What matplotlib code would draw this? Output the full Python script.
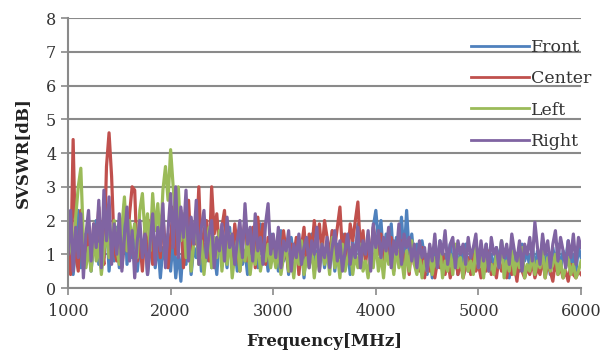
import numpy as np
import matplotlib.pyplot as plt

# frequency axis: 1000..6000 MHz, 25 MHz step (201 points)
freq = np.arange(1000, 6001, 25)

front = [
    0.8, 1.5, 0.4, 1.2, 2.3, 0.6, 1.6, 0.9, 1.9, 0.5, 1.3, 2.0, 0.7, 1.5, 0.9, 2.2, 0.5, 1.4, 0.8, 1.8, 0.6,
    1.2, 2.5, 0.7, 1.6, 0.9, 1.9, 0.5, 1.3, 0.8, 1.7, 0.4, 1.1, 1.8, 0.6, 1.4, 0.3, 1.2, 0.8, 1.6, 0.5,
    1.5, 0.3, 1.1, 0.2, 1.4, 0.7, 1.8, 0.4, 1.2, 0.9, 1.6, 0.5, 1.3, 0.8, 1.7, 0.6, 1.1, 0.4, 1.5, 0.9,
    1.3, 0.6, 1.8, 0.8, 1.2, 0.5, 1.6, 0.7, 1.1, 0.4, 1.5, 0.9, 1.3, 0.6, 1.9, 0.8, 1.2, 0.5, 1.6, 0.9,
    1.3, 0.5, 1.7, 0.8, 1.2, 0.4, 1.5, 0.9, 1.1, 0.6, 1.4, 0.3, 1.2, 0.7, 1.6, 0.5, 1.1, 0.8, 1.4, 0.6,
    1.2, 0.7, 1.7, 0.5, 1.3, 0.9, 1.6, 0.6, 1.2, 0.4, 1.4, 0.8, 1.9, 0.6, 1.3, 0.9, 1.5, 0.7, 1.8, 2.3,
    1.4, 2.0, 0.8, 1.6, 1.1, 1.9, 0.7, 1.5, 1.2, 2.1, 0.9, 2.3, 1.0, 1.6, 0.8, 1.3, 0.6, 1.4, 0.9, 0.4,
    1.1, 0.3, 1.2, 0.7, 1.4, 0.5, 1.0, 0.8, 1.3, 0.6, 1.1, 0.4, 1.2, 0.7, 1.3, 0.5, 1.0, 0.8, 1.4, 0.6,
    1.1, 0.4, 1.3, 0.7, 1.0, 0.5, 1.2, 0.8, 1.4, 0.6, 1.1, 0.3, 1.2, 0.7, 1.0, 0.5, 1.3, 0.8, 1.1, 0.6,
    1.3, 0.5, 1.1, 0.8, 1.4, 0.6, 1.0, 0.4, 1.2, 0.7, 1.3, 0.5, 1.1, 0.8, 1.4, 0.6, 1.0, 0.5, 1.2, 0.9,
]

center = [
    1.9, 0.4, 4.4, 1.0, 0.5, 2.3, 1.2, 0.8, 1.6, 0.6, 1.9, 1.1, 2.4, 1.3, 0.7, 3.6, 4.6, 3.3, 1.2, 0.8, 1.4,
    0.6, 1.5, 1.1, 2.2, 3.0, 2.9, 0.8, 1.4, 0.5, 1.7, 1.0, 2.0, 0.7, 1.3, 1.6, 0.9, 2.1, 1.2, 0.6, 1.5,
    2.4, 1.0, 1.8, 2.3, 0.6, 1.5, 2.6, 1.1, 1.9, 1.3, 3.0, 0.9, 1.7, 2.0, 0.8, 3.0, 1.6, 2.2, 1.2, 1.8,
    2.3, 1.0, 1.6, 0.7, 1.9, 1.2, 0.5, 1.4, 2.0, 0.8, 1.3, 1.8, 0.6, 2.1, 1.1, 1.9, 0.7, 1.5, 1.0, 1.3,
    0.8, 1.4, 0.6, 1.7, 1.1, 0.5, 1.3, 0.9, 1.5, 0.4, 1.2, 1.8, 0.7, 1.6, 1.1, 2.0, 1.3, 1.9, 1.0, 2.0,
    1.5, 0.9, 1.7, 1.2, 1.8, 2.4, 1.0, 1.6, 0.8, 1.9, 1.4, 2.0, 2.55, 1.1, 1.7, 0.7, 1.4, 1.0, 1.8, 1.3,
    1.0, 1.6, 0.6, 1.3, 0.9, 1.5, 0.5, 1.2, 0.8, 1.4, 0.6, 1.1, 0.4, 1.3, 0.7, 1.0, 0.5, 1.2, 0.3, 0.9,
    0.5, 1.0, 0.3, 0.8, 0.6, 1.1, 0.4, 0.9, 0.3, 0.7, 1.0, 0.4, 0.8, 0.3, 0.6, 0.9, 0.4, 1.0, 0.5, 0.7,
    0.3, 0.8, 0.5, 1.1, 0.4, 0.7, 0.3, 0.9, 0.5, 0.6, 0.3, 0.8, 0.4, 0.7, 0.2, 0.9, 0.5, 0.3, 0.6, 0.4,
    0.8, 0.3, 0.6, 0.4, 0.9, 0.3, 0.7, 0.5, 0.2, 0.8, 0.4, 0.6, 0.3, 0.5, 0.2, 0.7, 0.4, 0.3, 0.5, 0.4,
]

left = [
    1.9, 1.2, 0.9, 2.1, 3.0, 3.55, 1.4, 0.6, 1.2, 0.5, 1.5, 0.8, 1.3, 0.4, 1.1, 1.7, 0.9, 1.4, 2.0, 1.2, 0.7,
    1.8, 2.7, 1.1, 2.0, 1.4, 1.9, 0.9, 2.3, 2.8, 1.6, 2.2, 1.1, 2.8, 1.7, 2.5, 1.3, 2.9, 3.6, 2.6, 4.1,
    3.0, 2.0, 3.0, 1.4, 2.2, 0.9, 1.6, 0.5, 1.3, 1.9, 0.7, 1.4, 0.4, 1.2, 1.8, 0.6, 1.5, 0.9, 1.7, 0.5,
    1.3, 0.7, 1.6, 0.3, 1.0, 1.4, 0.5, 1.2, 0.8, 1.5, 0.4, 1.1, 0.7, 1.4, 0.5, 1.0, 0.8, 1.3, 0.6, 1.1,
    0.6, 1.2, 0.4, 0.9, 1.3, 0.5, 1.0, 0.3, 1.1, 0.7, 1.4, 0.4, 0.9, 0.6, 1.2, 0.3, 1.0, 0.5, 1.3, 0.7,
    1.1, 0.4, 1.5, 0.6, 1.0, 0.3, 1.3, 0.5, 0.9, 1.2, 0.4, 1.0, 0.6, 1.3, 0.5, 0.8, 0.3, 1.1, 0.6, 1.4,
    0.5, 1.0, 0.3, 1.2, 0.7, 1.0, 0.4, 1.3, 0.6, 0.9, 0.3, 1.1, 0.5, 1.4, 0.7, 0.4, 1.0, 0.3, 0.8, 0.5,
    1.1, 0.4, 0.9, 0.6, 1.2, 0.3, 0.8, 0.5, 1.0, 0.4, 1.3, 0.6, 0.9, 0.3, 1.1, 0.5, 0.8, 0.4, 1.2, 0.6,
    0.9, 0.3, 1.1, 0.5, 0.7, 0.4, 1.0, 0.6, 1.4, 0.3, 0.8, 0.5, 1.1, 0.4, 0.9, 0.6, 1.2, 0.3, 0.7, 0.5,
    1.0, 0.4, 0.8, 0.6, 1.1, 0.3, 0.9, 0.5, 0.7, 1.0, 0.4, 0.8, 0.3, 0.6, 0.9, 0.4, 0.7, 0.3, 0.5, 0.8,
]

right = [
    1.0, 2.3, 0.5, 1.8, 0.9, 2.2, 0.3, 1.6, 2.3, 0.8, 1.9, 1.2, 2.6, 0.6, 2.9, 1.4, 2.7, 0.7, 1.9, 1.0, 2.2,
    0.5, 1.5, 2.4, 0.8, 1.7, 0.3, 1.4, 2.0, 0.9, 1.6, 0.4, 1.3, 2.2, 0.7, 1.8, 1.1, 2.5, 0.6, 1.7, 2.8,
    1.2, 3.0, 0.9, 2.4, 1.5, 2.9, 0.8, 2.1, 1.3, 2.6, 0.7, 1.8, 2.3, 0.9, 1.6, 2.0, 0.6, 1.5, 1.1, 1.9,
    0.8, 2.1, 1.2, 1.6, 0.7, 1.4, 2.0, 0.9, 2.5, 1.3, 1.8, 0.8, 2.2, 1.1, 1.5, 0.7, 1.9, 2.5, 1.0, 1.6,
    0.9, 1.8, 0.6, 1.4, 1.1, 1.7, 0.5, 1.3, 0.9, 1.6, 0.7, 1.2, 1.5, 0.6, 1.4, 1.0, 1.8, 0.5, 1.3, 0.9,
    1.5, 0.6, 1.2, 1.7, 0.8, 1.4, 0.5, 1.1, 1.6, 0.7, 1.3, 0.9, 1.8, 0.6, 1.4, 1.0, 1.7, 0.5, 1.9, 1.2,
    1.7, 0.9, 1.5, 1.1, 1.8, 0.6, 1.4, 1.0, 1.9, 0.7, 1.6, 1.2, 1.5, 0.8, 1.3, 0.6, 1.4, 0.9, 1.2, 0.5,
    1.3, 0.8, 1.6, 0.6, 1.4, 1.0, 1.7, 0.7, 1.3, 1.5, 0.6, 1.4, 1.0, 1.3, 0.7, 1.5, 0.9, 1.2, 1.6, 0.6,
    1.4, 0.8, 1.3, 0.5, 1.5, 1.0, 1.2, 0.6, 1.4, 0.9, 1.3, 0.7, 1.6, 1.1, 0.8, 1.4, 0.5, 1.3, 1.0, 1.5,
    0.8, 1.95, 1.2, 0.7, 1.6, 1.0, 1.4, 0.6, 1.3, 1.7, 0.8, 1.5, 1.1, 0.6, 1.4, 0.9, 1.6, 0.7, 1.5, 1.2,
]

series = [("Front", front, "#4F81BD"), ("Center", center, "#C0504D"),
          ("Left", left, "#9BBB59"), ("Right", right, "#8064A2")]

plt.rcParams['font.family'] = ['DejaVu Serif']

fig = plt.figure(figsize=(6.11, 3.54), dpi=100)
ax = fig.add_axes([0.1113, 0.1864, 0.8397, 0.7626])

for name, vals, col in series:
    ax.plot(freq, vals, color=col, lw=2.3, label=name)

ax.set_xlim(1000, 6000)
ax.set_ylim(0, 8)
ax.set_xticks(range(1000, 6001, 1000))
ax.set_yticks(range(0, 9))
ax.grid(axis='y', color='#8a8a8a', lw=1.5)
ax.set_axisbelow(True)

for s in ['top', 'right']:
    ax.spines[s].set_visible(False)
for s in ['left', 'bottom']:
    ax.spines[s].set_color('#8a8a8a')
    ax.spines[s].set_linewidth(1.5)
ax.tick_params(colors='#8a8a8a', labelcolor='#333333', labelsize=11.5, length=5, width=1.2)
ax.tick_params(axis='x', pad=6)

ax.set_xlabel("Frequency[MHz]", fontsize=12, fontweight='bold', color='#222222', labelpad=9)
ax.set_ylabel("SVSWR[dB]", fontsize=12, fontweight='bold', color='#222222', labelpad=11)

leg = ax.legend(loc='upper right', bbox_to_anchor=(1.05, 0.98), frameon=False,
                fontsize=12.5, handlelength=3.3, handletextpad=0.12, labelspacing=0.82)
for t in leg.get_texts():
    t.set_color('#333333')
for h in leg.get_lines():
    h.set_linewidth(2.0)

fig.savefig("out.png", dpi=100)
